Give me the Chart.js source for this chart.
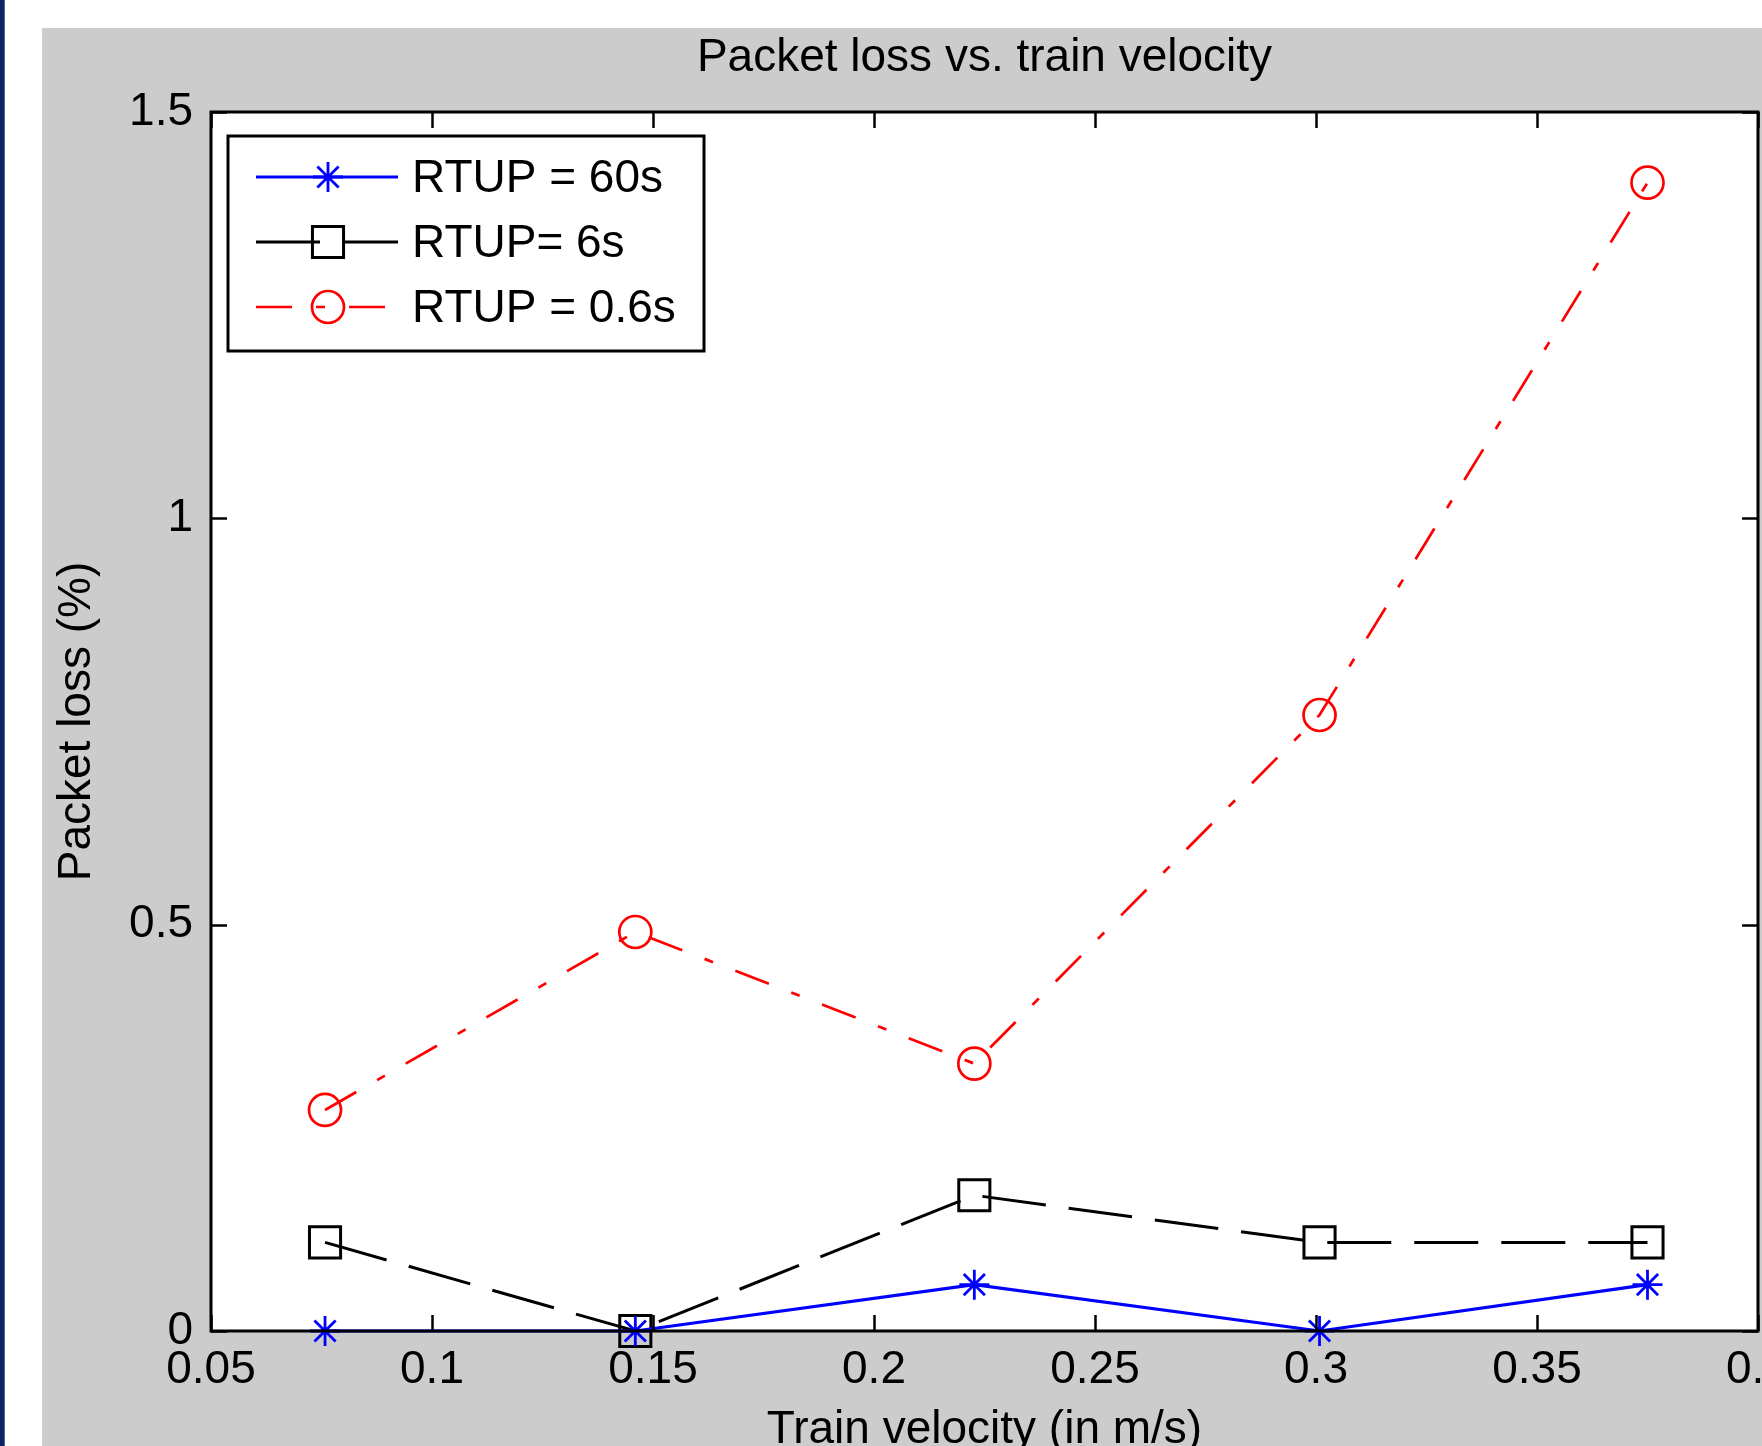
<!DOCTYPE html>
<html>
<head>
<meta charset="utf-8">
<script src="https://cdn.jsdelivr.net/npm/chart.js@4.4.1/dist/chart.umd.min.js"></script>
<style>
  html, body { margin: 0; padding: 0; background: #ffffff; overflow: hidden; width: 1762px; height: 1446px; }
  #wrap { position: absolute; left: 0; top: 0; width: 1830px; height: 1500px; }
  #strip { position: absolute; left: 0; top: 0; width: 4px; height: 1446px; background: #0b2562; z-index: 5; }
  #strip2 { position: absolute; left: 4px; top: 0; width: 1px; height: 1446px; background: #4a6aa8; z-index: 5; }
</style>
</head>
<body>
<div id="wrap"><canvas id="c" width="1830" height="1500"></canvas></div>
<div id="strip"></div><div id="strip2"></div>
<script>
// ---- data ----
const chartTitle = 'Packet loss vs. train velocity';
const xTitle = 'Train velocity (in m/s)';
const yTitle = 'Packet loss (%)';
const velocity = [0.0758, 0.146, 0.2227, 0.3008, 0.375];
const rtup60 = [0, 0, 0.057, 0, 0.057];
const rtup6 = [0.109, 0, 0.167, 0.109, 0.109];
const rtup06 = [0.272, 0.491, 0.329, 0.758, 1.413];
const seriesLabels = ['RTUP = 60s', 'RTUP= 6s', 'RTUP = 0.6s'];
const xTickValues = [0.05, 0.1, 0.15, 0.2, 0.25, 0.3, 0.35, 0.4];
const yTickValues = [0, 0.5, 1, 1.5];

const FONT = '"Liberation Sans", Arial, Helvetica, sans-serif';
const FS = 46;

function pts(ys) { return velocity.map((x, i) => ({ x: x, y: ys[i] })); }

const figurePlugin = {
  id: 'figure',
  beforeDraw(chart) {
    const ctx = chart.ctx, a = chart.chartArea;
    ctx.save();
    ctx.fillStyle = '#cccccc';
    ctx.fillRect(42, 28, chart.width - 42, chart.height - 28);
    ctx.fillStyle = '#ffffff';
    ctx.fillRect(a.left, a.top, a.right - a.left, a.bottom - a.top);
    ctx.restore();
  },
  afterDraw(chart) {
    const ctx = chart.ctx, a = chart.chartArea;
    const xs = chart.scales.x, ys = chart.scales.y;
    const tl = 16;
    ctx.save();
    ctx.strokeStyle = '#000000';
    ctx.lineWidth = 2.5;
    ctx.beginPath();
    xTickValues.forEach(v => {
      const px = Math.round(xs.getPixelForValue(v)) + 0.5;
      ctx.moveTo(px, a.bottom); ctx.lineTo(px, a.bottom - tl);
      ctx.moveTo(px, a.top); ctx.lineTo(px, a.top + tl);
    });
    yTickValues.forEach(v => {
      const py = Math.round(ys.getPixelForValue(v)) + 0.5;
      ctx.moveTo(a.left, py); ctx.lineTo(a.left + tl, py);
      ctx.moveTo(a.right, py); ctx.lineTo(a.right - tl, py);
    });
    ctx.stroke();
    ctx.lineWidth = 3;
    ctx.strokeRect(a.left, a.top, a.right - a.left, a.bottom - a.top);
    ctx.restore();
  }
};

const legendPlugin = {
  id: 'matlabLegend',
  afterDraw(chart) {
    const ctx = chart.ctx, a = chart.chartArea;
    const bx = a.left + 17, by = a.top + 24, bw = 476, bh = 215;
    ctx.save();
    ctx.fillStyle = '#ffffff';
    ctx.fillRect(bx, by, bw, bh);
    ctx.lineWidth = 3;
    ctx.strokeStyle = '#000000';
    ctx.strokeRect(bx, by, bw, bh);
    chart.data.datasets.forEach((ds, i) => {
      const cy = by + 41 + i * 65;
      ctx.save();
      ctx.strokeStyle = ds.borderColor;
      ctx.lineWidth = ds.borderWidth;
      ctx.setLineDash(ds.borderDash || []);
      ctx.beginPath();
      ctx.moveTo(bx + 28, cy);
      ctx.lineTo(bx + 170, cy);
      ctx.stroke();
      ctx.setLineDash([]);
      ctx.fillStyle = 'rgba(0,0,0,0)';
      ctx.strokeStyle = ds.borderColor;
      ctx.lineWidth = ds.pointBorderWidth;
      const opts = { pointStyle: ds.pointStyle, radius: ds.pointRadius, rotation: 0, borderWidth: ds.pointBorderWidth };
      if (Chart.helpers && Chart.helpers.drawPoint) {
        Chart.helpers.drawPoint(ctx, opts, bx + 100, cy);
      }
      ctx.restore();
      ctx.fillStyle = '#000000';
      ctx.font = FS + 'px ' + FONT;
      ctx.textBaseline = 'middle';
      ctx.textAlign = 'left';
      ctx.fillText(ds.label, bx + 184, cy + 2);
    });
    ctx.restore();
  }
};

const tickFont = { family: FONT, size: FS };

new Chart(document.getElementById('c'), {
  type: 'line',
  data: {
    datasets: [
      { label: seriesLabels[0], data: pts(rtup60), borderColor: '#0000ff', borderWidth: 3.2,
        pointStyle: 'star', pointRadius: 15, pointBorderWidth: 2.8, pointBackgroundColor: 'rgba(0,0,0,0)',
        pointBorderColor: '#0000ff', tension: 0, clip: false, fill: false },
      { label: seriesLabels[1], data: pts(rtup6), borderColor: '#000000', borderWidth: 3, borderDash: [64, 23],
        pointStyle: 'rect', pointRadius: 22, pointBorderWidth: 3, pointBackgroundColor: 'rgba(0,0,0,0)',
        pointBorderColor: '#000000', tension: 0, clip: false, fill: false },
      { label: seriesLabels[2], data: pts(rtup06), borderColor: '#ff0000', borderWidth: 2.7, borderDash: [36, 24, 9, 24],
        pointStyle: 'circle', pointRadius: 16, pointBorderWidth: 2.7, pointBackgroundColor: 'rgba(0,0,0,0)',
        pointBorderColor: '#ff0000', tension: 0, clip: false, fill: false }
    ]
  },
  options: {
    responsive: false,
    animation: false,
    devicePixelRatio: 1,
    events: [],
    layout: { padding: { left: 0, top: 0, right: 72, bottom: 0 } },
    plugins: { legend: { display: false }, tooltip: { enabled: false }, title: { display: false } },
    scales: {
      x: {
        type: 'linear', position: 'bottom', min: 0.05, max: 0.4,
        afterBuildTicks: s => { s.ticks = xTickValues.map(v => ({ value: v })); },
        afterFit: s => { s.height = 169; },
        ticks: { padding: 12, font: tickFont, color: '#000000', autoSkip: false, maxRotation: 0, minRotation: 0,
                 callback: v => String(v) },
        grid: { display: false, drawTicks: false },
        border: { display: false },
        title: { display: true, text: xTitle, font: tickFont, color: '#000000', padding: { top: 0, bottom: 42 } }
      },
      xTop: {
        type: 'linear', position: 'top', min: 0.05, max: 0.4,
        afterFit: s => { s.height = 112; },
        ticks: { display: false },
        grid: { display: false, drawTicks: false },
        border: { display: false },
        title: { display: true, text: chartTitle, font: tickFont, color: '#000000', padding: { top: 31, bottom: 0 } }
      },
      y: {
        type: 'linear', position: 'left', min: 0, max: 1.5,
        afterBuildTicks: s => { s.ticks = yTickValues.map(v => ({ value: v })); },
        afterFit: s => { s.width = 211; },
        ticks: { padding: 18, font: tickFont, color: '#000000', callback: v => String(v) },
        grid: { display: false, drawTicks: false },
        border: { display: false },
        title: { display: true, text: yTitle, font: tickFont, color: '#000000', padding: { top: 50, bottom: 0 } }
      }
    }
  },
  plugins: [figurePlugin, legendPlugin]
});
</script>
</body>
</html>
